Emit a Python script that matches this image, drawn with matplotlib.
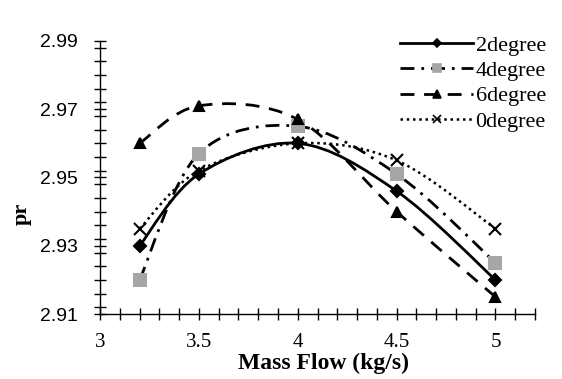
import numpy as np
import matplotlib
matplotlib.use("Agg")
import matplotlib.pyplot as plt
from matplotlib.path import Path
from matplotlib.patches import PathPatch
from matplotlib.lines import Line2D
from matplotlib.ticker import MultipleLocator

# ---- data ----
mass_flow = [3.2, 3.5, 4.0, 4.5, 5.0]
pr_2deg = [2.930, 2.951, 2.960, 2.946, 2.920]
pr_4deg = [2.920, 2.957, 2.965, 2.951, 2.925]
pr_6deg = [2.960, 2.971, 2.967, 2.940, 2.915]
pr_0deg = [2.935, 2.952, 2.960, 2.955, 2.935]
series_labels = ["2degree", "4degree", "6degree", "0degree"]
x_ticks = [3, 3.5, 4, 4.5, 5]
y_ticks = [2.91, 2.93, 2.95, 2.97, 2.99]

fig = plt.figure(figsize=(5.62, 3.79), dpi=100)
ax = fig.add_axes([0.178, 0.1715, 0.774, 0.7205])

def smooth_path(xs, ys):
    # Excel-style smoothed line: cubic Bezier segments through the points
    pts = np.column_stack([xs, ys]).astype(float)
    n = len(pts)
    verts = [pts[0]]
    codes = [Path.MOVETO]
    for i in range(n - 1):
        p0 = pts[i - 1] if i > 0 else pts[i]
        p1 = pts[i]
        p2 = pts[i + 1]
        p3 = pts[i + 2] if i + 2 < n else pts[i + 1]
        c1 = p1 + (p2 - p0) / 6.0
        c2 = p2 - (p3 - p1) / 6.0
        verts += [c1, c2, p2]
        codes += [Path.CURVE4] * 3
    return Path(verts, codes)

styles = [
    dict(ls='-', marker='D', mfc='black', mec='black', ms=6, lw=2.0),
    dict(ls=(0, (5, 2.5, 1, 2.5)), marker='s', mfc='#a6a6a6', mec='#a6a6a6', ms=8, lw=2.0),
    dict(ls=(0, (5, 3.5)), marker='^', mfc='black', mec='black', ms=7, lw=2.0),
    dict(ls=(0, (1, 1.5)), marker='x', mfc='black', mec='black', ms=8, lw=1.8),
]
all_series = [pr_2deg, pr_4deg, pr_6deg, pr_0deg]

handles = []
for ys, st, lab in zip(all_series, styles, series_labels):
    patch = PathPatch(smooth_path(mass_flow, ys), facecolor='none', edgecolor='black',
                      linewidth=st['lw'], linestyle=st['ls'], zorder=2)
    ax.add_patch(patch)
    ax.plot(mass_flow, ys, linestyle='none', marker=st['marker'], markersize=st['ms'],
            markerfacecolor=st['mfc'], markeredgecolor=st['mec'], markeredgewidth=1.5, zorder=3)
    handles.append(Line2D([], [], color='black', linestyle=st['ls'], linewidth=st['lw'],
                          marker=st['marker'], markersize=st['ms'],
                          markerfacecolor=st['mfc'], markeredgecolor=st['mec'],
                          markeredgewidth=1.2, label=lab))

ax.set_xlim(3, 5.2)
ax.set_ylim(2.91, 2.99)
ax.set_xticks(x_ticks)
ax.set_xticklabels([f"{t:g}" for t in x_ticks], fontfamily='Liberation Serif', fontsize=15)
ax.set_yticks(y_ticks)
ax.set_yticklabels([f"{t:.2f}" for t in y_ticks], fontfamily='Liberation Sans', fontsize=14)
ax.xaxis.set_minor_locator(MultipleLocator(0.1))
ax.yaxis.set_minor_locator(MultipleLocator(0.004))
ax.tick_params(which='both', direction='inout', length=8, width=1, color='black')
ax.tick_params(axis='x', which='major', pad=10)
ax.tick_params(axis='y', which='major', pad=12)

for s in ['top', 'right']:
    ax.spines[s].set_visible(False)
for s in ['left', 'bottom']:
    ax.spines[s].set_linewidth(1)

ax.set_xlabel("Mass Flow (kg/s)", fontfamily='Liberation Serif', fontweight='bold', fontsize=17)
ax.set_ylabel("pr", fontfamily='Liberation Serif', fontweight='bold', fontsize=16)
ax.xaxis.set_label_coords(0.513, -0.143)
ax.yaxis.set_label_coords(-0.156, 0.366)

leg = ax.legend(handles=handles, loc='upper left',
                bbox_to_anchor=(400 / 562, 1 - 35 / 379), bbox_transform=fig.transFigure,
                frameon=False, handlelength=3.3, handletextpad=0.1, labelspacing=0.22,
                borderpad=0, borderaxespad=0, markerscale=0.75,
                prop={'family': 'Liberation Serif', 'size': 16})

fig.savefig("out.png", dpi=100, facecolor='white')
